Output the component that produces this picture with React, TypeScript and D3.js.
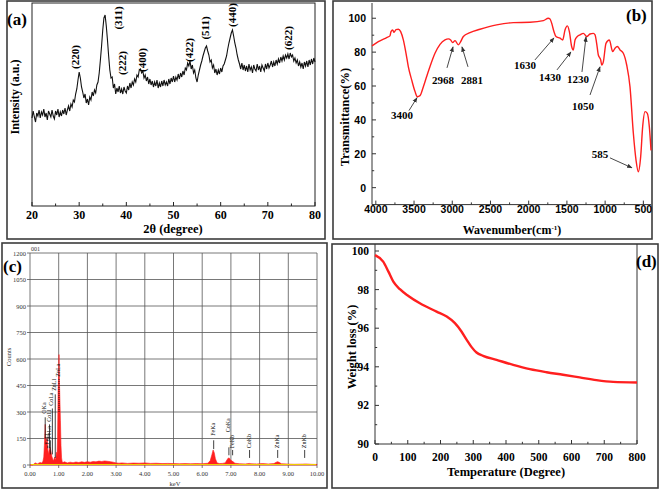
import React from 'react';
import * as d3 from 'd3';

const W = 661;
const H = 492;
const SERIF = '"Liberation Serif", "DejaVu Serif", serif';
const SANS = '"Liberation Sans", Arial, sans-serif';
const RED = '#ff1f1f';

// ---------- (a) XRD ----------
const xrdStart = 20;
const xrdStep = 0.25;
const xrdIntensity = [
  88, 95, 89, 84, 93, 90, 96, 88, 94, 91, 97, 89, 93, 86, 95, 92, 89, 96, 90, 87,
  95, 91, 97, 89, 94, 90, 96, 92, 98, 91, 96, 100, 95, 102, 99, 106, 104, 112, 117, 126,
  134, 128, 119, 114, 108, 112, 103, 107, 101, 109, 106, 114, 110, 116, 113, 121, 124, 133, 146, 160,
  176, 188, 191, 180, 166, 150, 136, 128, 129, 118, 122, 112, 118, 114, 120, 113, 117, 112, 119, 115,
  113, 120, 116, 123, 118, 124, 121, 127, 124, 131, 129, 136, 137, 133, 135, 128, 131, 125, 129, 122,
  127, 121, 125, 119, 124, 120, 126, 118, 123, 119, 125, 120, 126, 121, 124, 120, 127, 122, 128, 124,
  130, 124, 129, 126, 132, 127, 133, 129, 135, 131, 138, 136, 143, 140, 145, 137, 141, 133, 136, 128,
  124, 131, 136, 141, 145, 150, 154, 158, 160, 155, 151, 144, 146, 138, 141, 133, 137, 131, 136, 132,
  138, 134, 140, 142, 146, 150, 157, 163, 168, 173, 176, 170, 163, 158, 151, 146, 142, 137, 143, 136,
  141, 135, 140, 134, 142, 136, 139, 133, 141, 137, 135, 142, 136, 140, 134, 141, 138, 135, 142, 137,
  143, 138, 141, 145, 139, 144, 140, 146, 142, 147, 143, 149, 145, 150, 146, 151, 148, 152, 147, 153,
  149, 151, 145, 148, 143, 146, 140, 144, 139, 143, 137, 144, 140, 145, 139, 146, 141, 147, 142, 148,
  144,
];
const xrdPeakLabels = ['(220)', '(311)', '(222)', '(400)', '(422)', '(511)', '(440)', '(622)'];
const xrdPeakX = [29.1, 38.2, 39.1, 43.3, 53.3, 56.7, 62.4, 74.3];
const xrdPeakY = [149, 188, 143, 146, 156, 178, 191, 168];
const xrdXTicks = [20, 30, 40, 50, 60, 70, 80];
const xrdXMinor = [25, 35, 45, 55, 65, 75];

// ---------- (b) FTIR ----------
const ftirWave = [
  4050, 3967, 3858, 3815, 3801, 3780, 3762, 3736, 3705, 3675, 3640, 3605, 3575, 3531, 3487, 3457,
  3422, 3378, 3335, 3291, 3226, 3160, 3095, 3051, 3021, 2995, 2964, 2920, 2890, 2855, 2768, 2637,
  2419, 2201, 1983, 1808, 1743, 1721, 1699, 1669, 1643, 1590, 1555, 1525, 1494, 1468, 1438, 1416,
  1394, 1364, 1329, 1285, 1241, 1198, 1154, 1132, 1111, 1089, 1058, 1045, 1023, 989, 945, 901,
  871, 840, 805, 762, 718, 675, 631, 596, 566, 535, 509, 478, 448, 422, 400,
];
const ftirTrans = [
  83.7, 86.2, 88.6, 89.6, 92.1, 93.1, 91.7, 93.3, 93.5, 92.1, 87.2, 79.3, 71.5, 63.6, 56.7, 53.7,
  54.3, 59.6, 65.6, 71.5, 79.3, 84.6, 87.2, 87.8, 87.2, 85.6, 86.8, 84.3, 86.2, 89.2, 91.5, 93.5,
  96.1, 97.4, 97.6, 98.6, 100.0, 99.6, 97.0, 92.0, 89.2, 88.2, 87.2, 93.1, 95.5, 92.1, 83.3, 81.3,
  87.2, 89.2, 90.2, 91.1, 89.2, 90.7, 91.1, 90.2, 85.2, 78.3, 75.4, 72.4, 74.4, 85.2, 87.2, 80.3,
  82.3, 83.3, 81.3, 79.3, 72.4, 59.6, 32.1, 16.3, 9.4, 18.3, 36.0, 44.9, 43.9, 36.0, 22.0,
];
const ftirNoteLabels = ['3400', '2968', '2881', '1630', '1430', '1230', '1050', '585'];
const ftirNoteTextX = [3658, 3121, 2742, 2048, 1721, 1355, 1290, 1067];
const ftirNoteTextY = [42.9, 63.6, 63.6, 72.4, 65.4, 64.2, 48.2, 19.9];
const ftirArrowFromX = [3566, 3069, 2794, 1918, 1630, 1303, 1198, 937];
const ftirArrowFromY = [45.5, 70.7, 71.3, 75.4, 69.5, 68.3, 54.7, 17.6];
const ftirArrowToX = [3461, 2990, 2873, 1669, 1447, 1250, 1067, 649];
const ftirArrowToY = [53.1, 83.1, 83.1, 88.4, 80.1, 89.0, 71.3, 11.7];
const ftirXTicks = [4000, 3500, 3000, 2500, 2000, 1500, 1000, 500];
const ftirXMinor = [3750, 3250, 2750, 2250, 1750, 1250, 750];
const ftirYTicks = [0, 20, 40, 60, 80, 100];
const ftirYMinor = [-10, 10, 30, 50, 70, 90];

// ---------- (c) EDS ----------
const edsKeV = [
  0.0, 0.1, 0.15, 0.2, 0.25, 0.3, 0.35, 0.4, 0.45, 0.48, 0.5, 0.52, 0.53, 0.54, 0.56, 0.58,
  0.6, 0.62, 0.64, 0.66, 0.68, 0.7, 0.72, 0.74, 0.76, 0.78, 0.8, 0.82, 0.84, 0.86, 0.88, 0.9,
  0.92, 0.94, 0.96, 0.98, 1.0, 1.01, 1.02, 1.04, 1.06, 1.08, 1.1, 1.12, 1.15, 1.2, 1.3, 1.4,
  1.5, 1.6, 1.7, 1.8, 1.9, 2.0, 2.1, 2.2, 2.3, 2.4, 2.5, 2.6, 2.7, 2.8, 2.9, 3.0,
  3.1, 3.2, 3.4, 3.6, 3.8, 4.0, 4.2, 4.4, 4.6, 4.8, 5.0, 5.2, 5.4, 5.6, 5.8, 6.0,
  6.2, 6.28, 6.34, 6.38, 6.42, 6.46, 6.52, 6.6, 6.7, 6.8, 6.86, 6.9, 6.94, 6.98, 7.04, 7.08,
  7.14, 7.3, 7.5, 7.64, 7.7, 7.9, 8.1, 8.3, 8.5, 8.58, 8.63, 8.68, 8.76, 9.0, 9.2, 9.5,
  9.6, 9.8, 10.0,
];
const edsCounts = [
  0, 0, 8, 12, 6, 10, 14, 12, 20, 45, 110, 180, 230, 160, 140, 120,
  150, 90, 60, 80, 95, 100, 85, 70, 50, 40, 30, 25, 35, 45, 30, 40,
  72, 45, 150, 420, 520, 625, 510, 380, 250, 110, 40, 20, 14, 18, 12, 16,
  13, 17, 14, 18, 15, 19, 16, 20, 18, 22, 20, 23, 21, 19, 16, 12,
  10, 12, 9, 11, 10, 12, 9, 10, 8, 9, 8, 7, 8, 7, 8, 7,
  10, 25, 60, 85, 70, 35, 12, 8, 9, 12, 28, 38, 40, 30, 22, 18,
  10, 7, 6, 9, 7, 6, 8, 6, 8, 16, 19, 15, 7, 5, 4, 5,
  6, 4, 3,
];
const edsLineLabels = ['OKa', 'FeLl', 'CoLl', 'FeLa', 'CoLa', 'ZnLl', 'ZnLa', 'FeKa', 'CoKa', 'FeKb', 'CoKb', 'ZnKa', 'ZnKb'];
const edsLineE = [0.53, 0.62, 0.68, 0.71, 0.78, 0.88, 1.01, 6.4, 6.93, 7.06, 7.65, 8.63, 9.57];
const edsLineLo = [150, 95, 95, 60, 60, 40, 300, 90, 55, 55, 40, 40, 40];
const edsLineHi = [270, 110, 230, 140, 320, 400, 490, 140, 100, 85, 85, 85, 85];
const edsLabelAt = [290, 115, 245, 150, 335, 420, 500, 165, 185, 95, 95, 95, 95];
const edsXTicks = [0, 1, 2, 3, 4, 5, 6, 7, 8, 9, 10];
const edsYTicks = [0, 150, 300, 450, 600, 750, 900, 1050, 1200];

// ---------- (d) TGA ----------
const tgaTemp = [0, 25, 41, 56, 76, 102, 137, 188, 219, 244, 264, 280, 295, 310, 330, 371, 422, 473, 524, 574, 625, 676, 727, 800];
const tgaWeight = [99.79, 99.45, 98.93, 98.41, 98.02, 97.67, 97.29, 96.86, 96.6, 96.26, 95.83, 95.4, 95.02, 94.74, 94.57, 94.36, 94.1, 93.88, 93.72, 93.59, 93.45, 93.31, 93.22, 93.19];
const tgaXTicks = [0, 100, 200, 300, 400, 500, 600, 700, 800];
const tgaXMinor = [50, 150, 250, 350, 450, 550, 650, 750];
const tgaYTicks = [90, 92, 94, 96, 98, 100];
const tgaYMinor = [91, 93, 95, 97, 99];

const BORDER = '#3c3c3c';

function PanelA() {
  const x = d3.scaleLinear().domain([20, 80]).range([32, 315]);
  const y = d3.scaleLinear().domain([0, 203]).range([206, 3]);
  const pts = xrdIntensity.map((v, i) => [xrdStart + i * xrdStep, v] as [number, number]);
  const line = d3.line<[number, number]>().x((d) => x(d[0])).y((d) => y(d[1]));
  return (
    <g>
      <rect x={7} y={1} width={318} height={238} fill="none" stroke={BORDER} strokeWidth={1.6} />
      <rect x={32} y={3} width={283} height={203} fill="none" stroke="#222" strokeWidth={1} />
      {xrdXTicks.map((t) => (
        <g key={t}>
          <line x1={x(t)} x2={x(t)} y1={206} y2={202} stroke="#222" />
          <text x={x(t)} y={219} textAnchor="middle" fontFamily={SERIF} fontWeight="bold" fontSize={12}>{t}</text>
        </g>
      ))}
      {xrdXMinor.map((t) => (
        <line key={t} x1={x(t)} x2={x(t)} y1={206} y2={203.5} stroke="#222" />
      ))}
      <path d={line(pts) || ''} fill="none" stroke="#111" strokeWidth={1.1} />
      {xrdPeakLabels.map((l, i) => (
        <text key={l} transform={`translate(${x(xrdPeakX[i])},${y(xrdPeakY[i])}) rotate(-90)`} textAnchor="middle" dominantBaseline="central" fontFamily={SERIF} fontWeight="bold" fontSize={11}>{l}</text>
      ))}
      <text x={173} y={233} textAnchor="middle" fontFamily={SERIF} fontWeight="bold" fontSize={12.5}>2θ (degree)</text>
      <text transform="translate(15,97) rotate(-90)" textAnchor="middle" dominantBaseline="central" fontFamily={SERIF} fontWeight="bold" fontSize={12}>Intensity (a.u.)</text>
      <text x={7} y={25} fontFamily={SERIF} fontWeight="bold" fontSize={17}>(a)</text>
    </g>
  );
}

function PanelB() {
  const x = d3.scaleLinear().domain([4050, 400]).range([372, 651]);
  const y = d3.scaleLinear().domain([-10, 109]).range([204.6, 3]);
  const pts = ftirWave.map((w, i) => [w, ftirTrans[i]] as [number, number]);
  const line = d3.line<[number, number]>().x((d) => x(d[0])).y((d) => y(d[1])).curve(d3.curveMonotoneX);
  return (
    <g>
      <rect x={333} y={1} width={319} height={238} fill="none" stroke={BORDER} strokeWidth={1.6} />
      <line x1={372} x2={372} y1={3} y2={204.6} stroke="#333" />
      <line x1={372} x2={651} y1={204.6} y2={204.6} stroke="#333" />
      {ftirXTicks.map((t) => (
        <g key={t}>
          <line x1={x(t)} x2={x(t)} y1={204.6} y2={200.6} stroke="#333" />
          <text x={x(t)} y={213} textAnchor="middle" fontFamily={SANS} fontWeight="bold" fontSize={10.5}>{t}</text>
        </g>
      ))}
      {ftirXMinor.map((t) => (
        <line key={t} x1={x(t)} x2={x(t)} y1={204.6} y2={202.4} stroke="#333" />
      ))}
      {ftirYTicks.map((t) => (
        <g key={t}>
          <line x1={372} x2={376} y1={y(t)} y2={y(t)} stroke="#333" />
          <text x={366} y={y(t)} textAnchor="end" dominantBaseline="central" fontFamily={SANS} fontWeight="bold" fontSize={10.5}>{t}</text>
        </g>
      ))}
      {ftirYMinor.map((t) => (
        <line key={t} x1={372} x2={374.2} y1={y(t)} y2={y(t)} stroke="#333" />
      ))}
      <path d={line(pts) || ''} fill="none" stroke={RED} strokeWidth={1.4} />
      {ftirNoteLabels.map((l, i) => (
        <g key={l}>
          <line x1={x(ftirArrowFromX[i])} y1={y(ftirArrowFromY[i])} x2={x(ftirArrowToX[i])} y2={y(ftirArrowToY[i])} stroke="#333" strokeWidth={0.9} markerEnd="url(#arrowHead)" />
          <text x={x(ftirNoteTextX[i])} y={y(ftirNoteTextY[i])} textAnchor="middle" dominantBaseline="central" fontFamily={SERIF} fontWeight="bold" fontSize={11}>{l}</text>
        </g>
      ))}
      <text x={512} y={234} textAnchor="middle" fontFamily={SERIF} fontWeight="bold" fontSize={12}>
        Wavenumber(cm<tspan dy={-4} fontSize={7}>-1</tspan><tspan dy={4}>)</tspan>
      </text>
      <text transform="translate(345,117) rotate(-90)" textAnchor="middle" dominantBaseline="central" fontFamily={SERIF} fontWeight="bold" fontSize={12.5}>Transmittance(%)</text>
      <text x={626} y={21} fontFamily={SERIF} fontWeight="bold" fontSize={17}>(b)</text>
    </g>
  );
}

function PanelC() {
  const x = d3.scaleLinear().domain([0, 10]).range([30, 317]);
  const y = d3.scaleLinear().domain([0, 1200]).range([465, 253]);
  const pts = edsKeV.map((e, i) => [e, edsCounts[i]] as [number, number]);
  const area = d3.area<[number, number]>().x((d) => x(d[0])).y0(y(0)).y1((d) => y(d[1]));
  return (
    <g>
      <rect x={2} y={243} width={325} height={245} fill="none" stroke={BORDER} strokeWidth={1.6} />
      {edsXTicks.map((t) => (
        <g key={t}>
          <line x1={x(t)} x2={x(t)} y1={253} y2={465} stroke="#555" strokeWidth={0.8} />
          <line x1={x(t)} x2={x(t)} y1={465} y2={468} stroke="#555" strokeWidth={0.8} />
          <text x={x(t)} y={476} textAnchor="middle" fontFamily={SERIF} fontSize={6.5} fill="#333">{t.toFixed(2)}</text>
        </g>
      ))}
      {edsYTicks.map((t) => (
        <g key={t}>
          <line x1={30} x2={317} y1={y(t)} y2={y(t)} stroke="#555" strokeWidth={0.8} />
          <line x1={27} x2={30} y1={y(t)} y2={y(t)} stroke="#555" strokeWidth={0.8} />
          <text x={26} y={y(t)} textAnchor="end" dominantBaseline="central" fontFamily={SERIF} fontSize={6.5} fill="#333">{t}</text>
        </g>
      ))}
      <path d={area(pts) || ''} fill={RED} stroke={RED} strokeWidth={0.6} />
      <line x1={31} x2={316} y1={y(0) - 0.5} y2={y(0) - 0.5} stroke="#f0d000" strokeWidth={1.2} />
      {edsLineLabels.map((l, i) => (
        <g key={l}>
          <line x1={x(edsLineE[i])} x2={x(edsLineE[i])} y1={y(edsLineLo[i])} y2={y(edsLineHi[i])} stroke="#111" strokeWidth={0.8} strokeDasharray={l === 'ZnLa' ? '1,1' : undefined} />
          <text transform={`translate(${x(edsLineE[i]) - 1},${y(edsLabelAt[i])}) rotate(-90)`} dominantBaseline="central" fontFamily={SERIF} fontSize={6} fill="#111">{l}</text>
        </g>
      ))}
      <text x={31} y={251} fontFamily={SERIF} fontSize={6} fill="#333">001</text>
      <text x={175} y={486} textAnchor="middle" fontFamily={SERIF} fontSize={6.5} fill="#333">keV</text>
      <text transform="translate(8,357) rotate(-90)" textAnchor="middle" dominantBaseline="central" fontFamily={SERIF} fontSize={6.5} fill="#333">Counts</text>
      <text x={3} y={272} fontFamily={SERIF} fontWeight="bold" fontSize={17}>(c)</text>
    </g>
  );
}

function PanelD() {
  const x = d3.scaleLinear().domain([0, 800]).range([375, 637]);
  const y = d3.scaleLinear().domain([90, 100]).range([444, 251]);
  const pts = tgaTemp.map((t, i) => [t, tgaWeight[i]] as [number, number]);
  const line = d3.line<[number, number]>().x((d) => x(d[0])).y((d) => y(d[1])).curve(d3.curveMonotoneX);
  return (
    <g>
      <rect x={332} y={244} width={326} height={244} fill="none" stroke={BORDER} strokeWidth={1.6} />
      <line x1={375} x2={375} y1={244} y2={444} stroke="#333" />
      <line x1={637} x2={637} y1={244} y2={444} stroke="#333" />
      <line x1={375} x2={637} y1={444} y2={444} stroke="#333" />
      {tgaXTicks.map((t) => (
        <g key={t}>
          <line x1={x(t)} x2={x(t)} y1={444} y2={440} stroke="#333" />
          <text x={x(t)} y={461} textAnchor="middle" fontFamily={SERIF} fontWeight="bold" fontSize={11.5}>{t}</text>
        </g>
      ))}
      {tgaXMinor.map((t) => (
        <line key={t} x1={x(t)} x2={x(t)} y1={444} y2={441.8} stroke="#333" />
      ))}
      {tgaYTicks.map((t) => (
        <g key={t}>
          <line x1={375} x2={379} y1={y(t)} y2={y(t)} stroke="#333" />
          <text x={369} y={y(t)} textAnchor="end" dominantBaseline="central" fontFamily={SERIF} fontWeight="bold" fontSize={11.5}>{t}</text>
        </g>
      ))}
      {tgaYMinor.map((t) => (
        <line key={t} x1={375} x2={377.2} y1={y(t)} y2={y(t)} stroke="#333" />
      ))}
      <path d={line(pts) || ''} fill="none" stroke={RED} strokeWidth={2.4} />
      <text x={506} y={476} textAnchor="middle" fontFamily={SERIF} fontWeight="bold" fontSize={12.5}>Temperature (Degree)</text>
      <text transform="translate(352,347) rotate(-90)" textAnchor="middle" dominantBaseline="central" fontFamily={SERIF} fontWeight="bold" fontSize={12.5}>Weight loss (%)</text>
      <text x={636} y={267} fontFamily={SERIF} fontWeight="bold" fontSize={17}>(d)</text>
    </g>
  );
}

export default function App() {
  return (
    <svg width={W} height={H} viewBox={`0 0 ${W} ${H}`} style={{ position: 'absolute', left: 0, top: 0, background: '#fff' }}>
      <defs>
        <marker id="arrowHead" viewBox="0 0 10 10" refX={9} refY={5} markerWidth={6} markerHeight={6} orient="auto">
          <path d="M0,1 L10,5 L0,9 Z" fill="#333" />
        </marker>
      </defs>
      <rect x={0} y={0} width={W} height={H} fill="#fff" />
      <PanelA />
      <PanelB />
      <PanelC />
      <PanelD />
    </svg>
  );
}
